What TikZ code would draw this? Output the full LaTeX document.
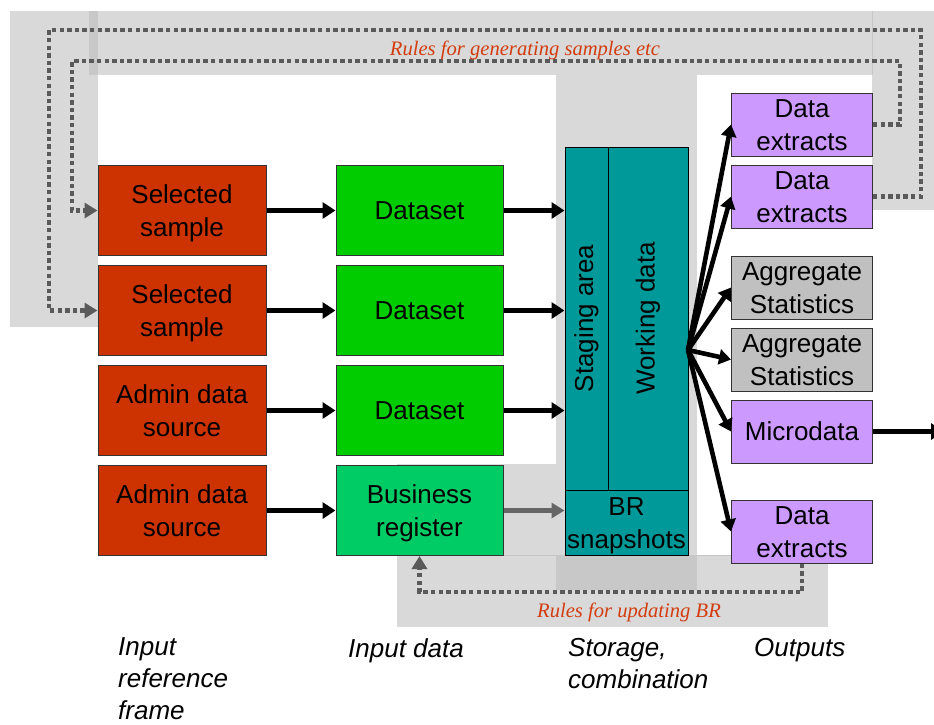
\documentclass[tikz,border=0pt]{standalone}
\usepackage{fontspec}
\setmainfont{Liberation Sans}
\newfontfamily\rulefont{Liberation Serif}
\usetikzlibrary{arrows.meta,calc}

\definecolor{srcred}{HTML}{CC3300}
\definecolor{dsgreen}{HTML}{00CC00}
\definecolor{brgreen}{HTML}{00CC66}
\definecolor{storeteal}{HTML}{009999}
\definecolor{outpurple}{HTML}{CC99FF}
\definecolor{aggrey}{HTML}{C0C0C0}
\definecolor{bandgrey}{HTML}{D9D9D9}
\definecolor{bandover}{HTML}{C8C8C8}
\definecolor{bandedge}{HTML}{C6C6C6}
\definecolor{loopgrey}{HTML}{5A5A5A}
\definecolor{brarrow}{HTML}{666666}
\definecolor{rulered}{HTML}{D23C0F}

% box text wrapped in struts with the ascent and descent of the box font
\newcommand\boxstrut{\rule[-5.5pt]{0pt}{29pt}}
\newcommand\bx[1]{\boxstrut#1\boxstrut}

\begin{document}
\begin{tikzpicture}[x=1pt,y=-1pt,
  box/.style={draw=black!80, line width=1pt, inner sep=0pt, align=center,
    font=\fontsize{26}{33}\selectfont},
  srcbox/.style={box, fill=srcred, minimum width=168pt, minimum height=90pt},
  dsbox/.style={box, fill=dsgreen, minimum width=167pt, minimum height=90pt},
  tealbox/.style={box, draw=black, fill=storeteal},
  outbox/.style={box, fill=outpurple, minimum width=141pt, minimum height=63pt},
  aggbox/.style={box, fill=aggrey, minimum width=141pt, minimum height=63pt},
  flow/.style={line width=5.6pt, -{Triangle[length=13pt,width=16pt]}},
  fan/.style={line width=4.6pt, -{Triangle[length=12pt,width=15pt]}},
  loop/.style={draw=loopgrey, line width=4.4pt, dash pattern=on 4.4pt off 3.2pt,
    -{Triangle[length=13pt,width=15pt]}, loopgrey},
  rulelab/.style={text=rulered, inner sep=0pt, anchor=base,
    font=\rulefont\itshape\fontsize{20.6}{24}\selectfont},
  collab/.style={inner sep=0pt, anchor=north west, align=left,
    font=\itshape\fontsize{26}{32}\selectfont}
]
\clip (0,0) rectangle (934,724);
\fill[white] (0,0) rectangle (934,724);

% grey rule bands
\fill[bandgrey] (10,11) rectangle (98,327);
\fill[bandgrey] (89,11) rectangle (872,75);
\fill[bandgrey] (872,11) rectangle (934,210);
\fill[bandover] (89,11) rectangle (98,75);
\draw[bandedge, line width=0.8pt] (872,11) -- (872,75);
\fill[bandgrey] (556,75) rectangle (697,590);
\fill[bandgrey] (397,464) rectangle (556,555);
\fill[bandgrey] (397,555) rectangle (828,627);
\fill[bandover] (556,555) rectangle (697,590);
\draw[bandedge, line width=0.8pt] (397,555) -- (828,555);

% input reference frame
\node[srcbox] (s1) at (182,210.5) {\bx{Selected\\sample}};
\node[srcbox] (s2) at (182,310.5) {\bx{Selected\\sample}};
\node[srcbox] (a1) at (182,410.5) {\bx{Admin data\\source}};
\node[srcbox] (a2) at (182,510.5) {\bx{Admin data\\source}};

% input data
\node[dsbox] (d1) at (419.5,210.5) {\bx{Dataset}};
\node[dsbox] (d2) at (419.5,310.5) {\bx{Dataset}};
\node[dsbox] (d3) at (419.5,410.5) {\bx{Dataset}};
\node[dsbox, fill=brgreen] (br) at (419.5,510.5) {\bx{Business\\register}};

% storage and combination
\node[tealbox, minimum width=43pt, minimum height=343pt] (staging) at (586.5,318.5) {};
\node[tealbox, minimum width=80pt, minimum height=343pt] (working) at (648,318.5) {};
\node[tealbox, minimum width=123pt, minimum height=65pt] (brs) at (626.5,522.5) {\bx{BR\\snapshots}};
\node[rotate=90, inner sep=0pt, font=\fontsize{26}{33}\selectfont] (stagingtxt) at (staging.center) {Staging area};
\node[rotate=90, inner sep=0pt, font=\fontsize{26}{33}\selectfont] (workingtxt) at (working.center) {Working data};

% outputs
\node[outbox] (de1) at (802,124.5) {\bx{Data\\extracts}};
\node[outbox] (de2) at (802,196.5) {\bx{Data\\extracts}};
\node[aggbox] (ag1) at (802,287.5) {\bx{Aggregate\\Statistics}};
\node[aggbox] (ag2) at (802,359.5) {\bx{Aggregate\\Statistics}};
\node[outbox] (mic) at (802,431.5) {\bx{Microdata}};
\node[outbox] (de3) at (802,531.5) {\bx{Data\\extracts}};

% feedback loops
\coordinate (o1) at (921,196.5);
\coordinate (o2) at (921,30);
\coordinate (o3) at (49,30);
\coordinate (o4) at (49,310.5);
\draw[loop] (de2.east) -- (o1) -- (o2) -- (o3) -- (o4) -- (s2.west);
\coordinate (i1) at (900,124.5);
\coordinate (i2) at (900,61);
\coordinate (i3) at (72,61);
\coordinate (i4) at (72,210.5);
\draw[loop] (de1.east) -- (i1) -- (i2) -- (i3) -- (i4) -- (s1.west);
\coordinate (b1) at (802,592);
\coordinate (b2) at (419.5,592);
\draw[loop] (de3.south) -- (b1) -- (b2) -- (br.south);

% main flows
\draw[flow] (s1) -- (d1);
\draw[flow] (s2) -- (d2);
\draw[flow] (a1) -- (d3);
\draw[flow] (a2) -- (br);
\draw[flow] (d1.east) -- (d1.east -| staging.west);
\draw[flow] (d2.east) -- (d2.east -| staging.west);
\draw[flow] (d3.east) -- (d3.east -| staging.west);
\draw[line width=5.5pt, brarrow, -{Triangle[length=13pt,width=15pt]}] (br.east) -- (br.east -| brs.west);

\coordinate (hub) at (688,350);
\draw[fan] (hub) -- (de1.west);
\draw[fan] (hub) -- (de2.west);
\draw[fan] (hub) -- (ag1.west);
\draw[fan] (hub) -- (ag2.west);
\draw[fan] (hub) -- (mic.west);
\draw[fan] (hub) -- (de3.west);
\coordinate (away) at (944,431.5);
\draw[flow] (mic.east) -- (away);

% rule labels
\node[rulelab] (rgen) at (525,55) {Rules for generating samples etc};
\node[rulelab] (rupd) at (629,617) {Rules for updating BR};

% column captions
\node[collab] (c1) at (118,637) {Input\\reference\\frame};
\node[collab] (c2) at (348,638) {Input data};
\node[collab] (c3) at (568,638) {Storage,\\combination};
\node[collab] (c4) at (754,638) {Outputs};
\end{tikzpicture}
\end{document}
